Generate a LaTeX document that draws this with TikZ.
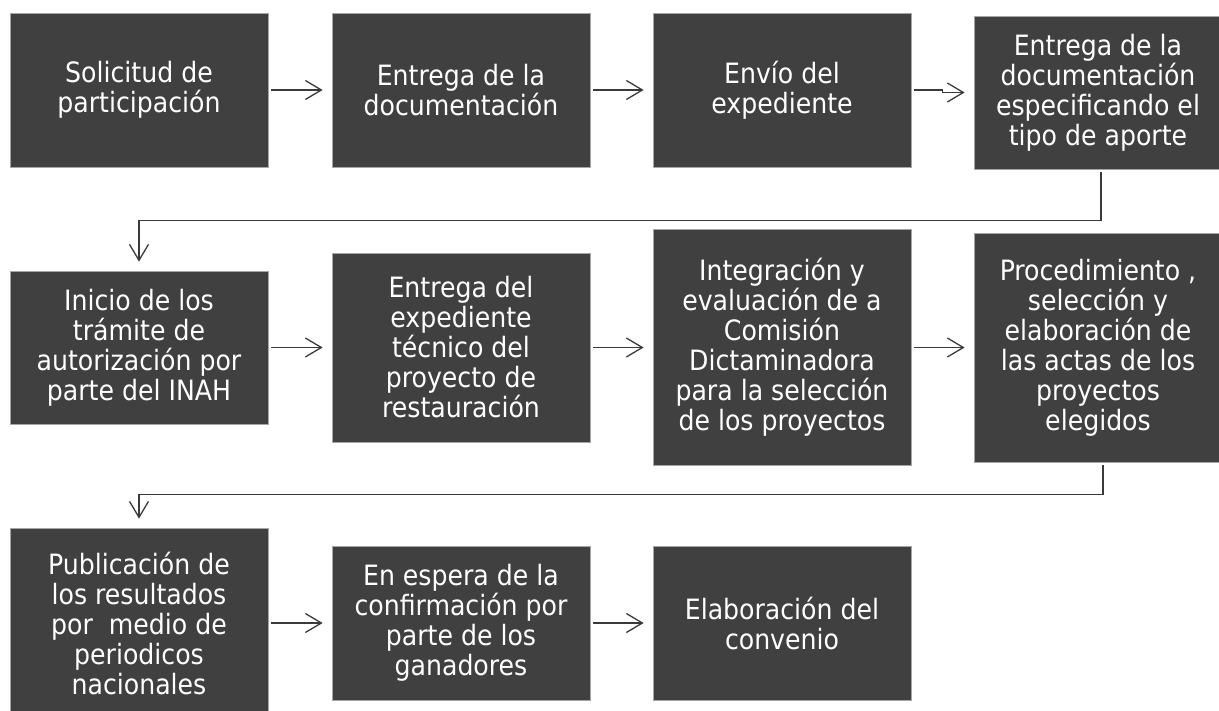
\documentclass[tikz,border=0pt]{standalone}
\usepackage{fontspec}
\setmainfont{DejaVu Sans Condensed}
\usetikzlibrary{arrows.meta}
\definecolor{caja}{HTML}{404040}
\definecolor{linea}{HTML}{3A3A3A}

\begin{document}
\begin{tikzpicture}[x=1pt,y=-1pt,
        paso/.style={draw=gray!70,line width=0.75pt,fill=caja,text=white,align=center,
            inner sep=0pt,minimum width=258pt,font=\fontsize{28}{30}\selectfont},
        flecha/.style={draw=linea,line width=1.3pt,
            -{Straight Barb[length=16pt,width=19pt,line width=1.3pt]},
            shorten <=3pt,shorten >=9pt}]
        \useasboundingbox (0,0) rectangle (1219,711);
        \clip (0,0) rectangle (1219,711);
        \fill[white] (0,0) rectangle (1219,711);
        \node[paso,minimum height=154pt] (b1) at (139,90) {Solicitud de\\participación};
        \node[paso,minimum height=154pt] (b2) at (461,90) {Entrega de la\\documentación};
        \node[paso,minimum height=154pt] (b3) at (782,90) {Envío del\\expediente};
        \node[paso,minimum height=153pt,minimum width=248pt] (b4) at (1098,92.5) {Entrega de la\\documentación\\especificando el\\tipo de aporte};
        \node[paso,minimum height=153pt] (b5) at (139,347.5) {Inicio de los\\trámite de\\autorización por\\parte del INAH};
        \node[paso,minimum height=189pt] (b6) at (461,347.5) {Entrega del\\expediente\\técnico del\\proyecto de\\restauración};
        \node[paso,minimum height=236pt] (b7) at (782,347.5) {Integración y\\evaluación de a\\Comisión\\Dictaminadora\\para la selección\\de los proyectos};
        \node[paso,minimum height=229pt,minimum width=248pt] (b8) at (1098,347.5) {Procedimiento ,\\selección y\\elaboración de\\las actas de los\\proyectos\\elegidos};
        \node[paso,minimum height=190pt] (b9) at (139,623) {Publicación de\\los resultados\\por\ \ medio de\\periodicos\\nacionales};
        \node[paso,minimum height=154pt] (b10) at (461,623) {En espera de la\\confirmación por\\parte de los\\ganadores};
        \node[paso,minimum height=154pt] (b11) at (782,623) {Elaboración del\\convenio};
        \draw[flecha] (b1) -- (b2);
        \draw[flecha] (b2) -- (b3);
        \draw[flecha] (b3.east) -- ++(31,0) |- (b4.west);
        \draw[flecha] ([xshift=3pt]b4.south) -- ++(0,51) -| (b5.north);
        \draw[flecha] (b5) -- (b6);
        \draw[flecha] (b6) -- (b7);
        \draw[flecha] (b7) -- (b8);
        \draw[flecha] ([xshift=5pt]b8.south) -- ++(0,32) -| (b9.north);
        \draw[flecha] (b9) -- (b10);
        \draw[flecha] (b10) -- (b11);
\end{tikzpicture}
\end{document}
